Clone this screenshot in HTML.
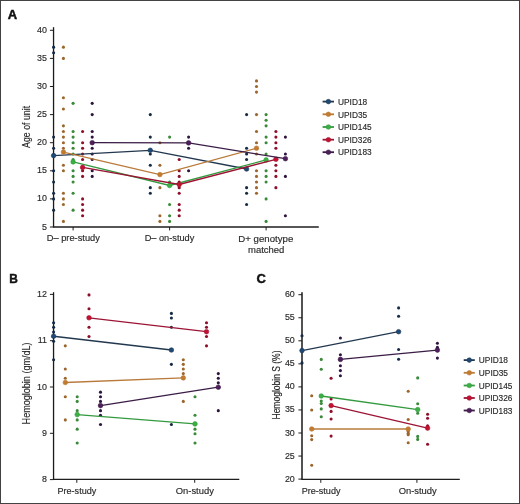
<!DOCTYPE html>
<html><head><meta charset="utf-8"><style>
html,body{margin:0;padding:0;background:#fff;}
body{width:520px;height:504px;overflow:hidden;}
svg{display:block;font-family:"Liberation Sans", sans-serif;will-change:transform;}
</style></head><body>
<svg width="520" height="504" viewBox="0 0 520 504">
<rect width="520" height="504" fill="#fff"/>
<line x1="53.55" y1="27.20" x2="53.55" y2="227.00" stroke="#1a1a1a" stroke-width="1.3"/>
<line x1="49.95" y1="30.30" x2="53.55" y2="30.30" stroke="#1e1e1e" stroke-width="1.0"/>
<text x="46.90" y="32.80" font-size="8.9" text-anchor="end" fill="#2a2a2a" stroke="#2a2a2a" stroke-width="0.15">40</text>
<line x1="49.95" y1="58.40" x2="53.55" y2="58.40" stroke="#1e1e1e" stroke-width="1.0"/>
<text x="46.90" y="60.90" font-size="8.9" text-anchor="end" fill="#2a2a2a" stroke="#2a2a2a" stroke-width="0.15">35</text>
<line x1="49.95" y1="86.50" x2="53.55" y2="86.50" stroke="#1e1e1e" stroke-width="1.0"/>
<text x="46.90" y="89.00" font-size="8.9" text-anchor="end" fill="#2a2a2a" stroke="#2a2a2a" stroke-width="0.15">30</text>
<line x1="49.95" y1="114.60" x2="53.55" y2="114.60" stroke="#1e1e1e" stroke-width="1.0"/>
<text x="46.90" y="117.10" font-size="8.9" text-anchor="end" fill="#2a2a2a" stroke="#2a2a2a" stroke-width="0.15">25</text>
<line x1="49.95" y1="142.70" x2="53.55" y2="142.70" stroke="#1e1e1e" stroke-width="1.0"/>
<text x="46.90" y="145.20" font-size="8.9" text-anchor="end" fill="#2a2a2a" stroke="#2a2a2a" stroke-width="0.15">20</text>
<line x1="49.95" y1="170.80" x2="53.55" y2="170.80" stroke="#1e1e1e" stroke-width="1.0"/>
<text x="46.90" y="173.30" font-size="8.9" text-anchor="end" fill="#2a2a2a" stroke="#2a2a2a" stroke-width="0.15">15</text>
<line x1="49.95" y1="198.90" x2="53.55" y2="198.90" stroke="#1e1e1e" stroke-width="1.0"/>
<text x="46.90" y="201.40" font-size="8.9" text-anchor="end" fill="#2a2a2a" stroke="#2a2a2a" stroke-width="0.15">10</text>
<line x1="49.95" y1="227.00" x2="53.55" y2="227.00" stroke="#1e1e1e" stroke-width="1.0"/>
<text x="46.90" y="229.50" font-size="8.9" text-anchor="end" fill="#2a2a2a" stroke="#2a2a2a" stroke-width="0.15">5</text>
<line x1="52.95" y1="227.00" x2="318.80" y2="227.00" stroke="#1e1e1e" stroke-width="1.4"/>
<line x1="73.10" y1="227.00" x2="73.10" y2="230.40" stroke="#1e1e1e" stroke-width="1.0"/>
<line x1="169.60" y1="227.00" x2="169.60" y2="230.40" stroke="#1e1e1e" stroke-width="1.0"/>
<line x1="266.10" y1="227.00" x2="266.10" y2="230.40" stroke="#1e1e1e" stroke-width="1.0"/>
<text x="73.30" y="241.20" font-size="8.7" text-anchor="middle" fill="#2a2a2a" stroke="#2a2a2a" stroke-width="0.15" textLength="53.2" lengthAdjust="spacingAndGlyphs">D– pre-study</text>
<text x="169.50" y="241.20" font-size="8.7" text-anchor="middle" fill="#2a2a2a" stroke="#2a2a2a" stroke-width="0.15" textLength="49.7" lengthAdjust="spacingAndGlyphs">D– on-study</text>
<text x="265.80" y="241.60" font-size="8.7" text-anchor="middle" fill="#2a2a2a" stroke="#2a2a2a" stroke-width="0.15" textLength="55.0" lengthAdjust="spacingAndGlyphs">D+ genotype</text>
<text x="266.20" y="252.80" font-size="8.7" text-anchor="middle" fill="#2a2a2a" stroke="#2a2a2a" stroke-width="0.15" textLength="36.4" lengthAdjust="spacingAndGlyphs">matched</text>
<text x="30.40" y="126.90" font-size="10.3" text-anchor="middle" fill="#2a2a2a" stroke="#2a2a2a" stroke-width="0.15" textLength="42.0" lengthAdjust="spacingAndGlyphs" transform="rotate(-90 30.40 126.90)">Age of unit</text>
<text x="7.70" y="18.50" font-size="13.0" text-anchor="start" fill="#111" font-weight="bold" stroke="#111" stroke-width="0.45">A</text>
<circle cx="53.60" cy="47.16" r="1.55" fill="#152a45"/>
<circle cx="53.60" cy="52.78" r="1.55" fill="#152a45"/>
<circle cx="53.60" cy="137.08" r="1.55" fill="#152a45"/>
<circle cx="53.60" cy="148.32" r="1.55" fill="#152a45"/>
<circle cx="53.60" cy="170.80" r="1.55" fill="#152a45"/>
<circle cx="53.60" cy="182.04" r="1.55" fill="#152a45"/>
<circle cx="53.60" cy="193.28" r="1.55" fill="#152a45"/>
<circle cx="53.60" cy="198.90" r="1.55" fill="#152a45"/>
<circle cx="53.60" cy="210.14" r="1.55" fill="#152a45"/>
<circle cx="150.30" cy="114.60" r="1.55" fill="#152a45"/>
<circle cx="150.30" cy="137.08" r="1.55" fill="#152a45"/>
<circle cx="150.30" cy="153.94" r="1.55" fill="#152a45"/>
<circle cx="150.30" cy="165.18" r="1.55" fill="#152a45"/>
<circle cx="150.30" cy="187.66" r="1.55" fill="#152a45"/>
<circle cx="150.30" cy="193.28" r="1.55" fill="#152a45"/>
<circle cx="246.60" cy="114.60" r="1.55" fill="#152a45"/>
<circle cx="246.60" cy="148.32" r="1.55" fill="#152a45"/>
<circle cx="246.60" cy="153.94" r="1.55" fill="#152a45"/>
<circle cx="246.60" cy="159.56" r="1.55" fill="#152a45"/>
<circle cx="246.60" cy="187.66" r="1.55" fill="#152a45"/>
<circle cx="246.60" cy="193.28" r="1.55" fill="#152a45"/>
<circle cx="246.60" cy="204.52" r="1.55" fill="#152a45"/>
<circle cx="63.40" cy="47.16" r="1.55" fill="#9c662c"/>
<circle cx="63.40" cy="58.40" r="1.55" fill="#9c662c"/>
<circle cx="63.40" cy="97.74" r="1.55" fill="#9c662c"/>
<circle cx="63.40" cy="108.98" r="1.55" fill="#9c662c"/>
<circle cx="63.40" cy="125.84" r="1.55" fill="#9c662c"/>
<circle cx="63.40" cy="131.46" r="1.55" fill="#9c662c"/>
<circle cx="63.40" cy="137.08" r="1.55" fill="#9c662c"/>
<circle cx="63.40" cy="142.70" r="1.55" fill="#9c662c"/>
<circle cx="63.40" cy="148.32" r="1.55" fill="#9c662c"/>
<circle cx="63.40" cy="165.18" r="1.55" fill="#9c662c"/>
<circle cx="63.40" cy="170.80" r="1.55" fill="#9c662c"/>
<circle cx="63.40" cy="193.28" r="1.55" fill="#9c662c"/>
<circle cx="63.40" cy="198.90" r="1.55" fill="#9c662c"/>
<circle cx="63.40" cy="204.52" r="1.55" fill="#9c662c"/>
<circle cx="63.40" cy="221.38" r="1.55" fill="#9c662c"/>
<circle cx="159.90" cy="142.70" r="1.55" fill="#9c662c"/>
<circle cx="159.90" cy="165.18" r="1.55" fill="#9c662c"/>
<circle cx="159.90" cy="187.66" r="1.55" fill="#9c662c"/>
<circle cx="159.90" cy="215.76" r="1.55" fill="#9c662c"/>
<circle cx="159.90" cy="221.38" r="1.55" fill="#9c662c"/>
<circle cx="256.50" cy="80.88" r="1.55" fill="#9c662c"/>
<circle cx="256.50" cy="86.50" r="1.55" fill="#9c662c"/>
<circle cx="256.50" cy="92.12" r="1.55" fill="#9c662c"/>
<circle cx="256.50" cy="114.60" r="1.55" fill="#9c662c"/>
<circle cx="256.50" cy="131.46" r="1.55" fill="#9c662c"/>
<circle cx="256.50" cy="142.70" r="1.55" fill="#9c662c"/>
<circle cx="256.50" cy="153.94" r="1.55" fill="#9c662c"/>
<circle cx="256.50" cy="170.80" r="1.55" fill="#9c662c"/>
<circle cx="256.50" cy="176.42" r="1.55" fill="#9c662c"/>
<circle cx="256.50" cy="182.04" r="1.55" fill="#9c662c"/>
<circle cx="256.50" cy="187.66" r="1.55" fill="#9c662c"/>
<circle cx="256.50" cy="193.28" r="1.55" fill="#9c662c"/>
<circle cx="73.10" cy="103.36" r="1.55" fill="#3a8a3a"/>
<circle cx="73.10" cy="131.46" r="1.55" fill="#3a8a3a"/>
<circle cx="73.10" cy="137.08" r="1.55" fill="#3a8a3a"/>
<circle cx="73.10" cy="142.70" r="1.55" fill="#3a8a3a"/>
<circle cx="73.10" cy="148.32" r="1.55" fill="#3a8a3a"/>
<circle cx="73.10" cy="153.94" r="1.55" fill="#3a8a3a"/>
<circle cx="73.10" cy="159.56" r="1.55" fill="#3a8a3a"/>
<circle cx="73.10" cy="170.80" r="1.55" fill="#3a8a3a"/>
<circle cx="73.10" cy="176.42" r="1.55" fill="#3a8a3a"/>
<circle cx="73.10" cy="182.04" r="1.55" fill="#3a8a3a"/>
<circle cx="73.10" cy="193.28" r="1.55" fill="#3a8a3a"/>
<circle cx="73.10" cy="210.14" r="1.55" fill="#3a8a3a"/>
<circle cx="169.60" cy="137.08" r="1.55" fill="#3a8a3a"/>
<circle cx="169.60" cy="182.04" r="1.55" fill="#3a8a3a"/>
<circle cx="169.60" cy="204.52" r="1.55" fill="#3a8a3a"/>
<circle cx="169.60" cy="215.76" r="1.55" fill="#3a8a3a"/>
<circle cx="169.60" cy="221.38" r="1.55" fill="#3a8a3a"/>
<circle cx="266.10" cy="114.60" r="1.55" fill="#3a8a3a"/>
<circle cx="266.10" cy="120.22" r="1.55" fill="#3a8a3a"/>
<circle cx="266.10" cy="125.84" r="1.55" fill="#3a8a3a"/>
<circle cx="266.10" cy="137.08" r="1.55" fill="#3a8a3a"/>
<circle cx="266.10" cy="142.70" r="1.55" fill="#3a8a3a"/>
<circle cx="266.10" cy="153.94" r="1.55" fill="#3a8a3a"/>
<circle cx="266.10" cy="170.80" r="1.55" fill="#3a8a3a"/>
<circle cx="266.10" cy="176.42" r="1.55" fill="#3a8a3a"/>
<circle cx="266.10" cy="182.04" r="1.55" fill="#3a8a3a"/>
<circle cx="266.10" cy="198.90" r="1.55" fill="#3a8a3a"/>
<circle cx="266.10" cy="221.38" r="1.55" fill="#3a8a3a"/>
<circle cx="82.60" cy="131.46" r="1.55" fill="#8e0f2a"/>
<circle cx="82.60" cy="142.70" r="1.55" fill="#8e0f2a"/>
<circle cx="82.60" cy="148.32" r="1.55" fill="#8e0f2a"/>
<circle cx="82.60" cy="153.94" r="1.55" fill="#8e0f2a"/>
<circle cx="82.60" cy="159.56" r="1.55" fill="#8e0f2a"/>
<circle cx="82.60" cy="170.80" r="1.55" fill="#8e0f2a"/>
<circle cx="82.60" cy="176.42" r="1.55" fill="#8e0f2a"/>
<circle cx="82.60" cy="198.90" r="1.55" fill="#8e0f2a"/>
<circle cx="82.60" cy="204.52" r="1.55" fill="#8e0f2a"/>
<circle cx="82.60" cy="210.14" r="1.55" fill="#8e0f2a"/>
<circle cx="82.60" cy="215.76" r="1.55" fill="#8e0f2a"/>
<circle cx="179.20" cy="159.56" r="1.55" fill="#8e0f2a"/>
<circle cx="179.20" cy="170.80" r="1.55" fill="#8e0f2a"/>
<circle cx="179.20" cy="176.42" r="1.55" fill="#8e0f2a"/>
<circle cx="179.20" cy="182.04" r="1.55" fill="#8e0f2a"/>
<circle cx="179.20" cy="187.66" r="1.55" fill="#8e0f2a"/>
<circle cx="179.20" cy="193.28" r="1.55" fill="#8e0f2a"/>
<circle cx="179.20" cy="204.52" r="1.55" fill="#8e0f2a"/>
<circle cx="179.20" cy="210.14" r="1.55" fill="#8e0f2a"/>
<circle cx="179.20" cy="215.76" r="1.55" fill="#8e0f2a"/>
<circle cx="275.90" cy="131.46" r="1.55" fill="#8e0f2a"/>
<circle cx="275.90" cy="137.08" r="1.55" fill="#8e0f2a"/>
<circle cx="275.90" cy="142.70" r="1.55" fill="#8e0f2a"/>
<circle cx="275.90" cy="148.32" r="1.55" fill="#8e0f2a"/>
<circle cx="275.90" cy="165.18" r="1.55" fill="#8e0f2a"/>
<circle cx="275.90" cy="170.80" r="1.55" fill="#8e0f2a"/>
<circle cx="275.90" cy="176.42" r="1.55" fill="#8e0f2a"/>
<circle cx="275.90" cy="187.66" r="1.55" fill="#8e0f2a"/>
<circle cx="92.20" cy="103.36" r="1.55" fill="#2e1540"/>
<circle cx="92.20" cy="114.60" r="1.55" fill="#2e1540"/>
<circle cx="92.20" cy="131.46" r="1.55" fill="#2e1540"/>
<circle cx="92.20" cy="137.08" r="1.55" fill="#2e1540"/>
<circle cx="92.20" cy="142.70" r="1.55" fill="#2e1540"/>
<circle cx="92.20" cy="148.32" r="1.55" fill="#2e1540"/>
<circle cx="92.20" cy="153.94" r="1.55" fill="#2e1540"/>
<circle cx="92.20" cy="159.56" r="1.55" fill="#2e1540"/>
<circle cx="92.20" cy="170.80" r="1.55" fill="#2e1540"/>
<circle cx="92.20" cy="176.42" r="1.55" fill="#2e1540"/>
<circle cx="188.60" cy="137.08" r="1.55" fill="#2e1540"/>
<circle cx="188.60" cy="148.32" r="1.55" fill="#2e1540"/>
<circle cx="188.60" cy="170.80" r="1.55" fill="#2e1540"/>
<circle cx="285.40" cy="137.08" r="1.55" fill="#2e1540"/>
<circle cx="285.40" cy="153.94" r="1.55" fill="#2e1540"/>
<circle cx="285.40" cy="176.42" r="1.55" fill="#2e1540"/>
<circle cx="285.40" cy="215.76" r="1.55" fill="#2e1540"/>
<polyline points="53.60,155.60 150.30,150.30 246.60,169.00" fill="none" stroke="#22384f" stroke-width="1.3"/>
<circle cx="53.60" cy="155.60" r="2.30" fill="#1c4a78" stroke="#22384f" stroke-width="0.6"/>
<circle cx="150.30" cy="150.30" r="2.30" fill="#1c4a78" stroke="#22384f" stroke-width="0.6"/>
<circle cx="246.60" cy="169.00" r="2.30" fill="#1c4a78" stroke="#22384f" stroke-width="0.6"/>
<polyline points="63.40,152.10 159.90,174.60 256.50,148.20" fill="none" stroke="#b97a3a" stroke-width="1.3"/>
<circle cx="63.40" cy="152.10" r="2.30" fill="#c47a2c" stroke="#b97a3a" stroke-width="0.6"/>
<circle cx="159.90" cy="174.60" r="2.30" fill="#c47a2c" stroke="#b97a3a" stroke-width="0.6"/>
<circle cx="256.50" cy="148.20" r="2.30" fill="#c47a2c" stroke="#b97a3a" stroke-width="0.6"/>
<polyline points="73.10,161.90 169.60,185.50 266.10,159.90" fill="none" stroke="#339a3f" stroke-width="1.3"/>
<circle cx="73.10" cy="161.90" r="2.30" fill="#3cb043" stroke="#339a3f" stroke-width="0.6"/>
<circle cx="169.60" cy="185.50" r="2.30" fill="#3cb043" stroke="#339a3f" stroke-width="0.6"/>
<circle cx="266.10" cy="159.90" r="2.30" fill="#3cb043" stroke="#339a3f" stroke-width="0.6"/>
<polyline points="82.60,167.40 179.20,184.50 275.90,159.30" fill="none" stroke="#9c1434" stroke-width="1.3"/>
<circle cx="82.60" cy="167.40" r="2.30" fill="#c8102e" stroke="#9c1434" stroke-width="0.6"/>
<circle cx="179.20" cy="184.50" r="2.30" fill="#c8102e" stroke="#9c1434" stroke-width="0.6"/>
<circle cx="275.90" cy="159.30" r="2.30" fill="#c8102e" stroke="#9c1434" stroke-width="0.6"/>
<polyline points="92.20,142.70 188.60,142.90 285.40,158.70" fill="none" stroke="#3a1c45" stroke-width="1.3"/>
<circle cx="92.20" cy="142.70" r="2.30" fill="#4e1d5c" stroke="#3a1c45" stroke-width="0.6"/>
<circle cx="188.60" cy="142.90" r="2.30" fill="#4e1d5c" stroke="#3a1c45" stroke-width="0.6"/>
<circle cx="285.40" cy="158.70" r="2.30" fill="#4e1d5c" stroke="#3a1c45" stroke-width="0.6"/>
<line x1="322.60" y1="101.60" x2="334.00" y2="101.60" stroke="#22384f" stroke-width="1.8"/>
<circle cx="328.40" cy="101.60" r="2.30" fill="#1c4a78" stroke="#22384f" stroke-width="0.6"/>
<text x="338.00" y="104.80" font-size="8.3" text-anchor="start" fill="#2a2a2a" stroke="#2a2a2a" stroke-width="0.15" textLength="29.2" lengthAdjust="spacingAndGlyphs">UPID18</text>
<line x1="322.60" y1="114.30" x2="334.00" y2="114.30" stroke="#b97a3a" stroke-width="1.8"/>
<circle cx="328.40" cy="114.30" r="2.30" fill="#c47a2c" stroke="#b97a3a" stroke-width="0.6"/>
<text x="338.00" y="117.50" font-size="8.3" text-anchor="start" fill="#2a2a2a" stroke="#2a2a2a" stroke-width="0.15" textLength="29.2" lengthAdjust="spacingAndGlyphs">UPID35</text>
<line x1="322.60" y1="127.00" x2="334.00" y2="127.00" stroke="#339a3f" stroke-width="1.8"/>
<circle cx="328.40" cy="127.00" r="2.30" fill="#3cb043" stroke="#339a3f" stroke-width="0.6"/>
<text x="338.00" y="130.20" font-size="8.3" text-anchor="start" fill="#2a2a2a" stroke="#2a2a2a" stroke-width="0.15" textLength="33.6" lengthAdjust="spacingAndGlyphs">UPID145</text>
<line x1="322.60" y1="139.70" x2="334.00" y2="139.70" stroke="#9c1434" stroke-width="1.8"/>
<circle cx="328.40" cy="139.70" r="2.30" fill="#c8102e" stroke="#9c1434" stroke-width="0.6"/>
<text x="338.00" y="142.90" font-size="8.3" text-anchor="start" fill="#2a2a2a" stroke="#2a2a2a" stroke-width="0.15" textLength="33.6" lengthAdjust="spacingAndGlyphs">UPID326</text>
<line x1="322.60" y1="152.20" x2="334.00" y2="152.20" stroke="#3a1c45" stroke-width="1.8"/>
<circle cx="328.40" cy="152.20" r="2.30" fill="#4e1d5c" stroke="#3a1c45" stroke-width="0.6"/>
<text x="338.00" y="155.40" font-size="8.3" text-anchor="start" fill="#2a2a2a" stroke="#2a2a2a" stroke-width="0.15" textLength="33.6" lengthAdjust="spacingAndGlyphs">UPID183</text>
<line x1="53.55" y1="292.20" x2="53.55" y2="479.40" stroke="#1a1a1a" stroke-width="1.3"/>
<line x1="49.95" y1="294.40" x2="53.55" y2="294.40" stroke="#1e1e1e" stroke-width="1.0"/>
<text x="46.90" y="296.90" font-size="8.9" text-anchor="end" fill="#2a2a2a" stroke="#2a2a2a" stroke-width="0.15">12</text>
<line x1="49.95" y1="340.70" x2="53.55" y2="340.70" stroke="#1e1e1e" stroke-width="1.0"/>
<text x="46.90" y="343.20" font-size="8.9" text-anchor="end" fill="#2a2a2a" stroke="#2a2a2a" stroke-width="0.15">11</text>
<line x1="49.95" y1="387.00" x2="53.55" y2="387.00" stroke="#1e1e1e" stroke-width="1.0"/>
<text x="46.90" y="389.50" font-size="8.9" text-anchor="end" fill="#2a2a2a" stroke="#2a2a2a" stroke-width="0.15">10</text>
<line x1="49.95" y1="433.30" x2="53.55" y2="433.30" stroke="#1e1e1e" stroke-width="1.0"/>
<text x="46.90" y="435.80" font-size="8.9" text-anchor="end" fill="#2a2a2a" stroke="#2a2a2a" stroke-width="0.15">9</text>
<line x1="49.95" y1="479.60" x2="53.55" y2="479.60" stroke="#1e1e1e" stroke-width="1.0"/>
<text x="46.90" y="482.10" font-size="8.9" text-anchor="end" fill="#2a2a2a" stroke="#2a2a2a" stroke-width="0.15">8</text>
<line x1="52.95" y1="479.40" x2="239.30" y2="479.40" stroke="#1e1e1e" stroke-width="1.4"/>
<line x1="76.80" y1="479.40" x2="76.80" y2="482.80" stroke="#1e1e1e" stroke-width="1.0"/>
<line x1="194.70" y1="479.40" x2="194.70" y2="482.80" stroke="#1e1e1e" stroke-width="1.0"/>
<text x="76.90" y="493.90" font-size="8.7" text-anchor="middle" fill="#2a2a2a" stroke="#2a2a2a" stroke-width="0.15" textLength="38.8" lengthAdjust="spacingAndGlyphs">Pre-study</text>
<text x="194.80" y="494.00" font-size="8.7" text-anchor="middle" fill="#2a2a2a" stroke="#2a2a2a" stroke-width="0.15" textLength="38.1" lengthAdjust="spacingAndGlyphs">On-study</text>
<text x="30.40" y="383.40" font-size="10.3" text-anchor="middle" fill="#2a2a2a" stroke="#2a2a2a" stroke-width="0.15" textLength="82.0" lengthAdjust="spacingAndGlyphs" transform="rotate(-90 30.40 383.40)">Hemoglobin (gm/dL)</text>
<text x="9.30" y="283.00" font-size="13.0" text-anchor="start" fill="#111" font-weight="bold" stroke="#111" stroke-width="0.45" textLength="8.6" lengthAdjust="spacingAndGlyphs">B</text>
<circle cx="53.60" cy="322.68" r="1.55" fill="#152a45"/>
<circle cx="53.60" cy="327.31" r="1.55" fill="#152a45"/>
<circle cx="53.60" cy="331.94" r="1.55" fill="#152a45"/>
<circle cx="53.60" cy="341.20" r="1.55" fill="#152a45"/>
<circle cx="53.60" cy="359.72" r="1.55" fill="#152a45"/>
<circle cx="171.40" cy="313.42" r="1.55" fill="#152a45"/>
<circle cx="171.40" cy="318.05" r="1.55" fill="#152a45"/>
<circle cx="171.40" cy="327.31" r="1.55" fill="#152a45"/>
<circle cx="171.40" cy="364.35" r="1.55" fill="#152a45"/>
<circle cx="171.40" cy="424.54" r="1.55" fill="#152a45"/>
<circle cx="65.30" cy="345.83" r="1.55" fill="#9c662c"/>
<circle cx="65.30" cy="368.98" r="1.55" fill="#9c662c"/>
<circle cx="65.30" cy="378.24" r="1.55" fill="#9c662c"/>
<circle cx="65.30" cy="396.76" r="1.55" fill="#9c662c"/>
<circle cx="65.30" cy="419.91" r="1.55" fill="#9c662c"/>
<circle cx="183.30" cy="359.72" r="1.55" fill="#9c662c"/>
<circle cx="183.30" cy="364.35" r="1.55" fill="#9c662c"/>
<circle cx="183.30" cy="368.98" r="1.55" fill="#9c662c"/>
<circle cx="183.30" cy="373.61" r="1.55" fill="#9c662c"/>
<circle cx="183.30" cy="401.39" r="1.55" fill="#9c662c"/>
<circle cx="77.20" cy="396.76" r="1.55" fill="#3a8a3a"/>
<circle cx="77.20" cy="401.39" r="1.55" fill="#3a8a3a"/>
<circle cx="77.20" cy="410.65" r="1.55" fill="#3a8a3a"/>
<circle cx="77.20" cy="419.91" r="1.55" fill="#3a8a3a"/>
<circle cx="77.20" cy="429.17" r="1.55" fill="#3a8a3a"/>
<circle cx="77.20" cy="443.06" r="1.55" fill="#3a8a3a"/>
<circle cx="195.00" cy="396.76" r="1.55" fill="#3a8a3a"/>
<circle cx="195.00" cy="415.28" r="1.55" fill="#3a8a3a"/>
<circle cx="195.00" cy="429.17" r="1.55" fill="#3a8a3a"/>
<circle cx="195.00" cy="433.80" r="1.55" fill="#3a8a3a"/>
<circle cx="195.00" cy="443.06" r="1.55" fill="#3a8a3a"/>
<circle cx="89.00" cy="294.90" r="1.55" fill="#8e0f2a"/>
<circle cx="89.00" cy="308.79" r="1.55" fill="#8e0f2a"/>
<circle cx="89.00" cy="327.31" r="1.55" fill="#8e0f2a"/>
<circle cx="89.00" cy="336.57" r="1.55" fill="#8e0f2a"/>
<circle cx="206.50" cy="322.68" r="1.55" fill="#8e0f2a"/>
<circle cx="206.50" cy="327.31" r="1.55" fill="#8e0f2a"/>
<circle cx="206.50" cy="336.57" r="1.55" fill="#8e0f2a"/>
<circle cx="206.50" cy="345.83" r="1.55" fill="#8e0f2a"/>
<circle cx="100.50" cy="392.13" r="1.55" fill="#2e1540"/>
<circle cx="100.50" cy="396.76" r="1.55" fill="#2e1540"/>
<circle cx="100.50" cy="401.39" r="1.55" fill="#2e1540"/>
<circle cx="100.50" cy="410.65" r="1.55" fill="#2e1540"/>
<circle cx="100.50" cy="415.28" r="1.55" fill="#2e1540"/>
<circle cx="100.50" cy="424.54" r="1.55" fill="#2e1540"/>
<circle cx="218.30" cy="373.61" r="1.55" fill="#2e1540"/>
<circle cx="218.30" cy="378.24" r="1.55" fill="#2e1540"/>
<circle cx="218.30" cy="382.87" r="1.55" fill="#2e1540"/>
<circle cx="218.30" cy="410.65" r="1.55" fill="#2e1540"/>
<polyline points="53.60,336.25 171.40,350.00" fill="none" stroke="#22384f" stroke-width="1.3"/>
<circle cx="53.60" cy="336.25" r="2.30" fill="#1c4a78" stroke="#22384f" stroke-width="0.6"/>
<circle cx="171.40" cy="350.00" r="2.30" fill="#1c4a78" stroke="#22384f" stroke-width="0.6"/>
<polyline points="65.30,382.50 183.30,377.90" fill="none" stroke="#b97a3a" stroke-width="1.3"/>
<circle cx="65.30" cy="382.50" r="2.30" fill="#c47a2c" stroke="#b97a3a" stroke-width="0.6"/>
<circle cx="183.30" cy="377.90" r="2.30" fill="#c47a2c" stroke="#b97a3a" stroke-width="0.6"/>
<polyline points="77.20,414.60 195.00,423.90" fill="none" stroke="#339a3f" stroke-width="1.3"/>
<circle cx="77.20" cy="414.60" r="2.30" fill="#3cb043" stroke="#339a3f" stroke-width="0.6"/>
<circle cx="195.00" cy="423.90" r="2.30" fill="#3cb043" stroke="#339a3f" stroke-width="0.6"/>
<polyline points="89.00,317.80 206.50,331.70" fill="none" stroke="#9c1434" stroke-width="1.3"/>
<circle cx="89.00" cy="317.80" r="2.30" fill="#c8102e" stroke="#9c1434" stroke-width="0.6"/>
<circle cx="206.50" cy="331.70" r="2.30" fill="#c8102e" stroke="#9c1434" stroke-width="0.6"/>
<polyline points="100.50,405.60 218.30,387.20" fill="none" stroke="#3a1c45" stroke-width="1.3"/>
<circle cx="100.50" cy="405.60" r="2.30" fill="#4e1d5c" stroke="#3a1c45" stroke-width="0.6"/>
<circle cx="218.30" cy="387.20" r="2.30" fill="#4e1d5c" stroke="#3a1c45" stroke-width="0.6"/>
<line x1="302.00" y1="292.20" x2="302.00" y2="479.40" stroke="#333" stroke-width="1.7"/>
<line x1="298.40" y1="294.70" x2="302.00" y2="294.70" stroke="#1e1e1e" stroke-width="1.0"/>
<text x="294.80" y="297.20" font-size="8.9" text-anchor="end" fill="#2a2a2a" stroke="#2a2a2a" stroke-width="0.15">60</text>
<line x1="298.40" y1="317.75" x2="302.00" y2="317.75" stroke="#1e1e1e" stroke-width="1.0"/>
<text x="294.80" y="320.25" font-size="8.9" text-anchor="end" fill="#2a2a2a" stroke="#2a2a2a" stroke-width="0.15">55</text>
<line x1="298.40" y1="340.80" x2="302.00" y2="340.80" stroke="#1e1e1e" stroke-width="1.0"/>
<text x="294.80" y="343.30" font-size="8.9" text-anchor="end" fill="#2a2a2a" stroke="#2a2a2a" stroke-width="0.15">50</text>
<line x1="298.40" y1="363.85" x2="302.00" y2="363.85" stroke="#1e1e1e" stroke-width="1.0"/>
<text x="294.80" y="366.35" font-size="8.9" text-anchor="end" fill="#2a2a2a" stroke="#2a2a2a" stroke-width="0.15">45</text>
<line x1="298.40" y1="386.90" x2="302.00" y2="386.90" stroke="#1e1e1e" stroke-width="1.0"/>
<text x="294.80" y="389.40" font-size="8.9" text-anchor="end" fill="#2a2a2a" stroke="#2a2a2a" stroke-width="0.15">40</text>
<line x1="298.40" y1="409.95" x2="302.00" y2="409.95" stroke="#1e1e1e" stroke-width="1.0"/>
<text x="294.80" y="412.45" font-size="8.9" text-anchor="end" fill="#2a2a2a" stroke="#2a2a2a" stroke-width="0.15">35</text>
<line x1="298.40" y1="433.00" x2="302.00" y2="433.00" stroke="#1e1e1e" stroke-width="1.0"/>
<text x="294.80" y="435.50" font-size="8.9" text-anchor="end" fill="#2a2a2a" stroke="#2a2a2a" stroke-width="0.15">30</text>
<line x1="298.40" y1="456.05" x2="302.00" y2="456.05" stroke="#1e1e1e" stroke-width="1.0"/>
<text x="294.80" y="458.55" font-size="8.9" text-anchor="end" fill="#2a2a2a" stroke="#2a2a2a" stroke-width="0.15">25</text>
<line x1="298.40" y1="479.10" x2="302.00" y2="479.10" stroke="#1e1e1e" stroke-width="1.0"/>
<text x="294.80" y="481.60" font-size="8.9" text-anchor="end" fill="#2a2a2a" stroke="#2a2a2a" stroke-width="0.15">20</text>
<line x1="301.40" y1="479.40" x2="459.80" y2="479.40" stroke="#1e1e1e" stroke-width="1.4"/>
<line x1="320.80" y1="479.40" x2="320.80" y2="482.80" stroke="#1e1e1e" stroke-width="1.0"/>
<line x1="416.90" y1="479.40" x2="416.90" y2="482.80" stroke="#1e1e1e" stroke-width="1.0"/>
<text x="321.10" y="493.90" font-size="8.7" text-anchor="middle" fill="#2a2a2a" stroke="#2a2a2a" stroke-width="0.15" textLength="38.8" lengthAdjust="spacingAndGlyphs">Pre-study</text>
<text x="417.70" y="494.00" font-size="8.7" text-anchor="middle" fill="#2a2a2a" stroke="#2a2a2a" stroke-width="0.15" textLength="38.1" lengthAdjust="spacingAndGlyphs">On-study</text>
<text x="279.50" y="385.00" font-size="10.3" text-anchor="middle" fill="#2a2a2a" stroke="#2a2a2a" stroke-width="0.15" textLength="69.0" lengthAdjust="spacingAndGlyphs" transform="rotate(-90 279.50 385.00)">Hemoglobin S (%)</text>
<text x="256.60" y="282.80" font-size="13.0" text-anchor="start" fill="#111" font-weight="bold" stroke="#111" stroke-width="0.45">C</text>
<circle cx="302.00" cy="335.80" r="1.55" fill="#152a45"/>
<circle cx="302.00" cy="362.90" r="1.55" fill="#152a45"/>
<circle cx="398.60" cy="307.90" r="1.55" fill="#152a45"/>
<circle cx="398.60" cy="316.20" r="1.55" fill="#152a45"/>
<circle cx="398.60" cy="349.50" r="1.55" fill="#152a45"/>
<circle cx="398.60" cy="359.30" r="1.55" fill="#152a45"/>
<circle cx="311.70" cy="395.70" r="1.55" fill="#9c662c"/>
<circle cx="311.70" cy="410.00" r="1.55" fill="#9c662c"/>
<circle cx="311.70" cy="435.70" r="1.55" fill="#9c662c"/>
<circle cx="311.70" cy="439.60" r="1.55" fill="#9c662c"/>
<circle cx="311.70" cy="465.20" r="1.55" fill="#9c662c"/>
<circle cx="408.20" cy="391.20" r="1.55" fill="#9c662c"/>
<circle cx="408.20" cy="419.50" r="1.55" fill="#9c662c"/>
<circle cx="408.20" cy="431.60" r="1.55" fill="#9c662c"/>
<circle cx="408.20" cy="433.20" r="1.55" fill="#9c662c"/>
<circle cx="408.20" cy="434.80" r="1.55" fill="#9c662c"/>
<circle cx="408.20" cy="442.80" r="1.55" fill="#9c662c"/>
<circle cx="321.25" cy="359.40" r="1.55" fill="#3a8a3a"/>
<circle cx="321.25" cy="369.20" r="1.55" fill="#3a8a3a"/>
<circle cx="321.25" cy="401.00" r="1.55" fill="#3a8a3a"/>
<circle cx="321.25" cy="403.50" r="1.55" fill="#3a8a3a"/>
<circle cx="321.25" cy="408.90" r="1.55" fill="#3a8a3a"/>
<circle cx="321.25" cy="416.70" r="1.55" fill="#3a8a3a"/>
<circle cx="417.70" cy="377.90" r="1.55" fill="#3a8a3a"/>
<circle cx="417.70" cy="403.70" r="1.55" fill="#3a8a3a"/>
<circle cx="417.70" cy="413.20" r="1.55" fill="#3a8a3a"/>
<circle cx="417.70" cy="436.40" r="1.55" fill="#3a8a3a"/>
<circle cx="417.70" cy="439.40" r="1.55" fill="#3a8a3a"/>
<circle cx="331.10" cy="378.30" r="1.55" fill="#8e0f2a"/>
<circle cx="331.10" cy="398.90" r="1.55" fill="#8e0f2a"/>
<circle cx="331.10" cy="411.40" r="1.55" fill="#8e0f2a"/>
<circle cx="331.10" cy="419.00" r="1.55" fill="#8e0f2a"/>
<circle cx="331.10" cy="436.10" r="1.55" fill="#8e0f2a"/>
<circle cx="427.60" cy="414.20" r="1.55" fill="#8e0f2a"/>
<circle cx="427.60" cy="418.20" r="1.55" fill="#8e0f2a"/>
<circle cx="427.60" cy="425.70" r="1.55" fill="#8e0f2a"/>
<circle cx="427.60" cy="444.20" r="1.55" fill="#8e0f2a"/>
<circle cx="340.40" cy="338.00" r="1.55" fill="#2e1540"/>
<circle cx="340.40" cy="354.70" r="1.55" fill="#2e1540"/>
<circle cx="340.40" cy="365.80" r="1.55" fill="#2e1540"/>
<circle cx="340.40" cy="370.60" r="1.55" fill="#2e1540"/>
<circle cx="340.40" cy="375.80" r="1.55" fill="#2e1540"/>
<circle cx="437.40" cy="343.30" r="1.55" fill="#2e1540"/>
<circle cx="437.40" cy="347.40" r="1.55" fill="#2e1540"/>
<circle cx="437.40" cy="358.10" r="1.55" fill="#2e1540"/>
<polyline points="302.00,350.60 398.60,331.70" fill="none" stroke="#22384f" stroke-width="1.3"/>
<circle cx="302.00" cy="350.60" r="2.30" fill="#1c4a78" stroke="#22384f" stroke-width="0.6"/>
<circle cx="398.60" cy="331.70" r="2.30" fill="#1c4a78" stroke="#22384f" stroke-width="0.6"/>
<polyline points="311.70,429.00 408.20,429.00" fill="none" stroke="#b97a3a" stroke-width="1.3"/>
<circle cx="311.70" cy="429.00" r="2.30" fill="#c47a2c" stroke="#b97a3a" stroke-width="0.6"/>
<circle cx="408.20" cy="429.00" r="2.30" fill="#c47a2c" stroke="#b97a3a" stroke-width="0.6"/>
<polyline points="321.25,396.00 417.70,409.60" fill="none" stroke="#339a3f" stroke-width="1.3"/>
<circle cx="321.25" cy="396.00" r="2.30" fill="#3cb043" stroke="#339a3f" stroke-width="0.6"/>
<circle cx="417.70" cy="409.60" r="2.30" fill="#3cb043" stroke="#339a3f" stroke-width="0.6"/>
<polyline points="331.10,405.60 427.60,428.10" fill="none" stroke="#9c1434" stroke-width="1.3"/>
<circle cx="331.10" cy="405.60" r="2.30" fill="#c8102e" stroke="#9c1434" stroke-width="0.6"/>
<circle cx="427.60" cy="428.10" r="2.30" fill="#c8102e" stroke="#9c1434" stroke-width="0.6"/>
<polyline points="340.40,359.40 437.40,350.10" fill="none" stroke="#3a1c45" stroke-width="1.3"/>
<circle cx="340.40" cy="359.40" r="2.30" fill="#4e1d5c" stroke="#3a1c45" stroke-width="0.6"/>
<circle cx="437.40" cy="350.10" r="2.30" fill="#4e1d5c" stroke="#3a1c45" stroke-width="0.6"/>
<line x1="463.70" y1="360.10" x2="474.80" y2="360.10" stroke="#22384f" stroke-width="1.8"/>
<circle cx="469.30" cy="360.10" r="2.30" fill="#1c4a78" stroke="#22384f" stroke-width="0.6"/>
<text x="478.80" y="363.30" font-size="8.3" text-anchor="start" fill="#2a2a2a" stroke="#2a2a2a" stroke-width="0.15" textLength="29.2" lengthAdjust="spacingAndGlyphs">UPID18</text>
<line x1="463.70" y1="372.80" x2="474.80" y2="372.80" stroke="#b97a3a" stroke-width="1.8"/>
<circle cx="469.30" cy="372.80" r="2.30" fill="#c47a2c" stroke="#b97a3a" stroke-width="0.6"/>
<text x="478.80" y="376.00" font-size="8.3" text-anchor="start" fill="#2a2a2a" stroke="#2a2a2a" stroke-width="0.15" textLength="29.2" lengthAdjust="spacingAndGlyphs">UPID35</text>
<line x1="463.70" y1="385.50" x2="474.80" y2="385.50" stroke="#339a3f" stroke-width="1.8"/>
<circle cx="469.30" cy="385.50" r="2.30" fill="#3cb043" stroke="#339a3f" stroke-width="0.6"/>
<text x="478.80" y="388.70" font-size="8.3" text-anchor="start" fill="#2a2a2a" stroke="#2a2a2a" stroke-width="0.15" textLength="33.6" lengthAdjust="spacingAndGlyphs">UPID145</text>
<line x1="463.70" y1="398.00" x2="474.80" y2="398.00" stroke="#9c1434" stroke-width="1.8"/>
<circle cx="469.30" cy="398.00" r="2.30" fill="#c8102e" stroke="#9c1434" stroke-width="0.6"/>
<text x="478.80" y="401.20" font-size="8.3" text-anchor="start" fill="#2a2a2a" stroke="#2a2a2a" stroke-width="0.15" textLength="33.6" lengthAdjust="spacingAndGlyphs">UPID326</text>
<line x1="463.70" y1="410.50" x2="474.80" y2="410.50" stroke="#3a1c45" stroke-width="1.8"/>
<circle cx="469.30" cy="410.50" r="2.30" fill="#4e1d5c" stroke="#3a1c45" stroke-width="0.6"/>
<text x="478.80" y="413.70" font-size="8.3" text-anchor="start" fill="#2a2a2a" stroke="#2a2a2a" stroke-width="0.15" textLength="33.6" lengthAdjust="spacingAndGlyphs">UPID183</text>
<rect x="0.5" y="0.5" width="519" height="503" fill="none" stroke="#424242" stroke-width="1"/>
</svg>
</body></html>
